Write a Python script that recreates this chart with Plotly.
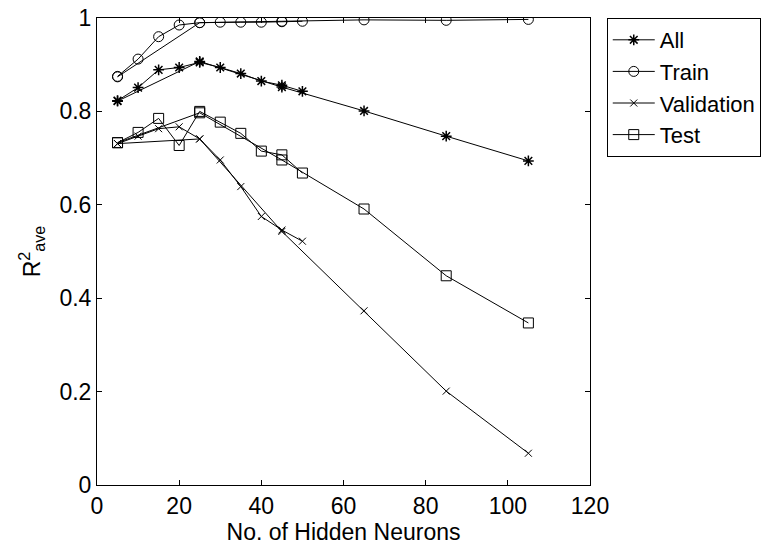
import plotly.graph_objects as go

# Hidden-neuron counts for the two runs drawn per series
x_fine = [5, 10, 15, 20, 25, 30, 35, 40, 45, 50]
x_coarse = [5, 25, 45, 65, 85, 105]

all_fine = [0.823, 0.851, 0.889, 0.894, 0.905, 0.894, 0.881, 0.865, 0.856, 0.843]
all_coarse = [0.822, 0.907, 0.852, 0.801, 0.747, 0.694]
train_fine = [0.875, 0.912, 0.960, 0.985, 0.990, 0.991, 0.991, 0.991, 0.992, 0.993]
train_coarse = [0.874, 0.990, 0.993, 0.996, 0.995, 0.997]
val_fine = [0.731, 0.747, 0.763, 0.767, 0.741, 0.696, 0.639, 0.575, 0.546, 0.522]
val_coarse = [0.731, 0.741, 0.543, 0.373, 0.201, 0.068]
test_fine = [0.733, 0.755, 0.785, 0.727, 0.800, 0.777, 0.753, 0.715, 0.707, 0.668]
test_coarse = [0.733, 0.797, 0.696, 0.591, 0.448, 0.347]

series_names = ["All", "Train", "Validation", "Test"]
x_ticks = [0, 20, 40, 60, 80, 100, 120]
y_ticks = [0, 0.2, 0.4, 0.6, 0.8, 1]
y_tick_labels = ["0", "0.2", "0.4", "0.6", "0.8", "1"]

FONT = "Liberation Sans, Arial, sans-serif"
FS = 23
styles = {
    "All": dict(symbol="asterisk-open", size=9, line=dict(width=1.5, color="black")),
    "Train": dict(symbol="circle-open", size=10, line=dict(width=1, color="black")),
    "Validation": dict(symbol="x-thin-open", size=7, line=dict(width=1, color="black")),
    "Test": dict(symbol="square-open", size=10, line=dict(width=1, color="black")),
}
data = {
    "All": (all_fine, all_coarse),
    "Train": (train_fine, train_coarse),
    "Validation": (val_fine, val_coarse),
    "Test": (test_fine, test_coarse),
}

fig = go.Figure()
for name in series_names:
    fine, coarse = data[name]
    for i, (xs, ys) in enumerate([(x_fine, fine), (x_coarse, coarse)]):
        fig.add_trace(go.Scatter(
            x=xs, y=ys, mode="lines+markers", name=name,
            legendgroup=name, showlegend=(i == 0),
            line=dict(color="black", width=1),
            marker=dict(color="black", **styles[name]),
        ))

axis_common = dict(
    showgrid=False, zeroline=False, showline=True, linecolor="black", linewidth=1,
    mirror="ticks", ticks="inside", ticklen=5, tickcolor="black", tickwidth=1,
    tickfont=dict(family=FONT, size=FS, color="black"), automargin=False,
)
fig.update_xaxes(range=[0, 120], tickvals=x_ticks,
                 title=dict(text="No. of Hidden Neurons", font=dict(family=FONT, size=FS, color="black"), standoff=2),
                 **axis_common)
fig.update_yaxes(range=[0, 1], tickvals=y_ticks, ticktext=y_tick_labels,
                 title=dict(text="R<sup>2</sup><sub>ave</sub>", font=dict(family=FONT, size=FS, color="black"), standoff=12),
                 **axis_common)

fig.update_layout(
    width=773, height=545, autosize=False,
    margin=dict(l=97, r=180, t=18, b=60),
    paper_bgcolor="white", plot_bgcolor="white",
    showlegend=True,
    legend=dict(x=1.034, y=1, xanchor="left", yanchor="top",
                bordercolor="black", borderwidth=1, bgcolor="white",
                font=dict(family=FONT, size=22, color="black"),
                tracegroupgap=0, itemwidth=42),
)

fig.write_html("out.html")
